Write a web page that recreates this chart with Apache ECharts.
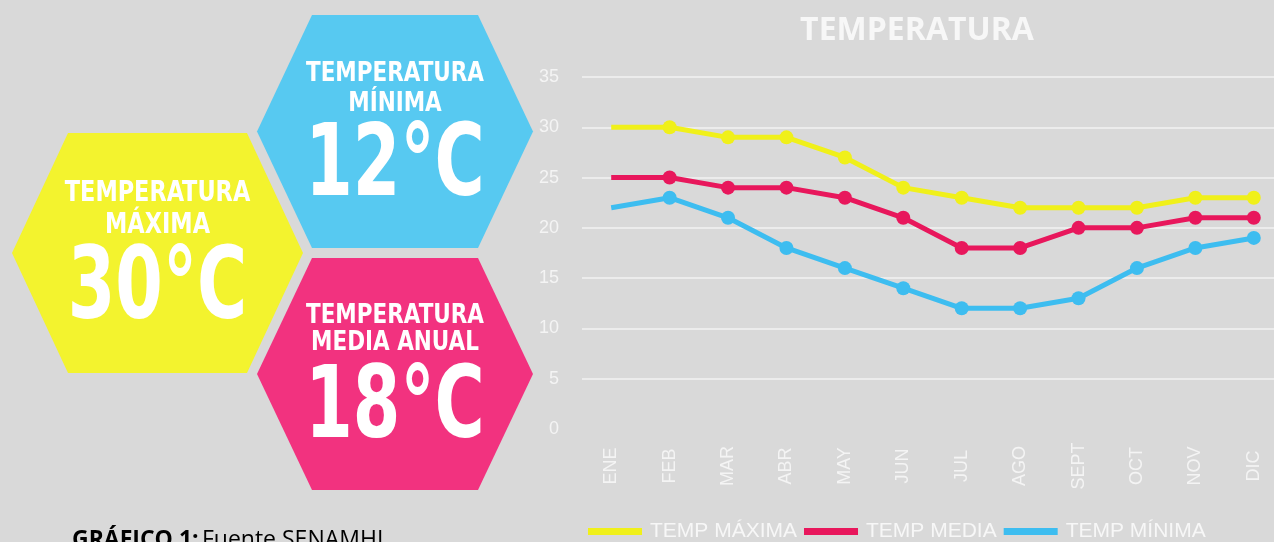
<!DOCTYPE html>
<html>
<head>
<meta charset="utf-8">
<title>Temperatura</title>
<script src="https://cdn.jsdelivr.net/npm/echarts@6/dist/echarts.min.js"></script>
<style>
  html, body { margin: 0; padding: 0; background: #d9d9d9; }
  #chart { width: 1274px; height: 542px; }
</style>
</head>
<body>
<div id="chart"></div>
<script>
// Monthly temperatures (°C)
const months = ['ENE', 'FEB', 'MAR', 'ABR', 'MAY', 'JUN', 'JUL', 'AGO', 'SEPT', 'OCT', 'NOV', 'DIC'];
const tempMaxima = [30, 30, 29, 29, 27, 24, 23, 22, 22, 22, 23, 23];
const tempMedia  = [25, 25, 24, 24, 23, 21, 18, 18, 20, 20, 21, 21];
const tempMinima = [22, 23, 21, 18, 16, 14, 12, 12, 13, 16, 18, 19];
const seriesNames = ['TEMP MÁXIMA', 'TEMP MEDIA', 'TEMP MÍNIMA'];
const yTicks = [0, 5, 10, 15, 20, 25, 30, 35];

// Summary badges
const badgeTitles = [['TEMPERATURA', 'MÁXIMA'], ['TEMPERATURA', 'MÍNIMA'], ['TEMPERATURA', 'MEDIA ANUAL']];
const badgeValues = [30, 12, 18];

const COLORS = { max: '#f0f01a', media: '#e8175c', min: '#3dbdf0' };
const BADGE_FILL = ['#f3f32e', '#57c9f1', '#f2327f'];
const WHITE = '#ffffff';
const NARROW = "'Liberation Sans Narrow', 'DejaVu Sans Condensed', 'Liberation Sans', sans-serif";

// Hexagon outlines and the vertical positions of the text inside them
const hexBoxes = [
  { x0: 12,  x1: 303, y0: 133, y1: 373, inset: 56, t1: 194, t2: 226, big: 292, size: 28, sx: 0.89 },
  { x0: 257, x1: 533, y0: 15,  y1: 248, inset: 55, t1: 74,  t2: 104, big: 169, size: 26, sx: 0.92 },
  { x0: 257, x1: 533, y0: 258, y1: 490, inset: 55, t1: 316, t2: 343, big: 411, size: 26, sx: 0.92 }
];

function hexPoints(b) {
  const my = (b.y0 + b.y1) / 2;
  return [[b.x0 + b.inset, b.y0], [b.x1 - b.inset, b.y0], [b.x1, my],
          [b.x1 - b.inset, b.y1], [b.x0 + b.inset, b.y1], [b.x0, my]];
}

function label(text, x, y, font, sx) {
  return {
    type: 'text', silent: true, z: 2,
    x: x, y: y, scaleX: sx,
    style: { text: text, x: 0, y: 0, align: 'center', verticalAlign: 'middle', fill: WHITE, font: font }
  };
}

const graphics = [];
hexBoxes.forEach(function (b, i) {
  const cx = (b.x0 + b.x1) / 2;
  graphics.push({
    type: 'polygon', silent: true, z: 1,
    shape: { points: hexPoints(b) },
    style: { fill: BADGE_FILL[i] }
  });
  graphics.push(label(badgeTitles[i][0], cx, b.t1, 'bold ' + b.size + 'px ' + NARROW, b.sx));
  graphics.push(label(badgeTitles[i][1], cx, b.t2, 'bold ' + b.size + 'px ' + NARROW, b.sx));
  graphics.push(label(badgeValues[i] + '°C', cx, b.big, 'bold 100px ' + NARROW, 0.76));
});

// Source caption
graphics.push({
  type: 'text', silent: true, z: 2,
  x: 72, y: 540,
  style: {
    text: '{b|GRÁFICO 1:} {r|Fuente SENAMHI}',
    x: 0, y: 0, verticalAlign: 'middle',
    rich: {
      b: { fontFamily: "'Open Sans', sans-serif", fontWeight: 'bold', fontSize: 23, color: '#111111' },
      r: { fontFamily: "'Open Sans', sans-serif", fontSize: 23, color: '#111111' }
    }
  }
});

function lineSeries(name, data, color) {
  return {
    name: name,
    type: 'line',
    data: data,
    symbol: 'circle',
    symbolSize: function (v, p) { return p.dataIndex === 0 ? 0 : 14; },
    lineStyle: { width: 5, color: color },
    itemStyle: { color: color },
    emphasis: { disabled: true },
    animation: false
  };
}

const chart = echarts.init(document.getElementById('chart'), null, { renderer: 'canvas' });
chart.setOption({
  backgroundColor: '#d9d9d9',
  animation: false,
  title: {
    text: 'TEMPERATURA',
    left: 912, top: 10, textAlign: 'center',
    textStyle: { color: '#f7f7f7', fontSize: 32, fontWeight: 'bold', fontFamily: "'Open Sans', sans-serif" }
  },
  legend: {
    data: seriesNames,
    left: 583, top: 516,
    icon: 'rect', itemWidth: 54, itemHeight: 7, itemGap: 7,
    textStyle: { color: '#f7f7f7', fontSize: 21, fontFamily: "'Liberation Sans', sans-serif", padding: [0, 0, 0, 3] }
  },
  grid: { left: 582, top: 77, width: 701, height: 352, containLabel: false, outerBoundsMode: 'none' },
  xAxis: {
    type: 'category',
    data: months,
    boundaryGap: true,
    axisLine: { show: false },
    axisTick: { show: false },
    axisLabel: { rotate: 90, align: 'center', margin: 37, color: '#f4f4f4', fontSize: 18, fontFamily: "'Liberation Sans', sans-serif" }
  },
  yAxis: {
    type: 'value',
    min: yTicks[0], max: yTicks[yTicks.length - 1], interval: yTicks[1] - yTicks[0],
    axisLine: { show: false },
    axisTick: { show: false },
    axisLabel: { margin: 23, color: '#f4f4f4', fontSize: 18, fontFamily: "'Liberation Sans', sans-serif" },
    splitLine: { show: true, showMinLine: false, lineStyle: { color: '#ececec', width: 2 } }
  },
  series: [
    lineSeries(seriesNames[0], tempMaxima, COLORS.max),
    lineSeries(seriesNames[1], tempMedia, COLORS.media),
    lineSeries(seriesNames[2], tempMinima, COLORS.min)
  ],
  graphic: graphics
});
</script>
</body>
</html>
